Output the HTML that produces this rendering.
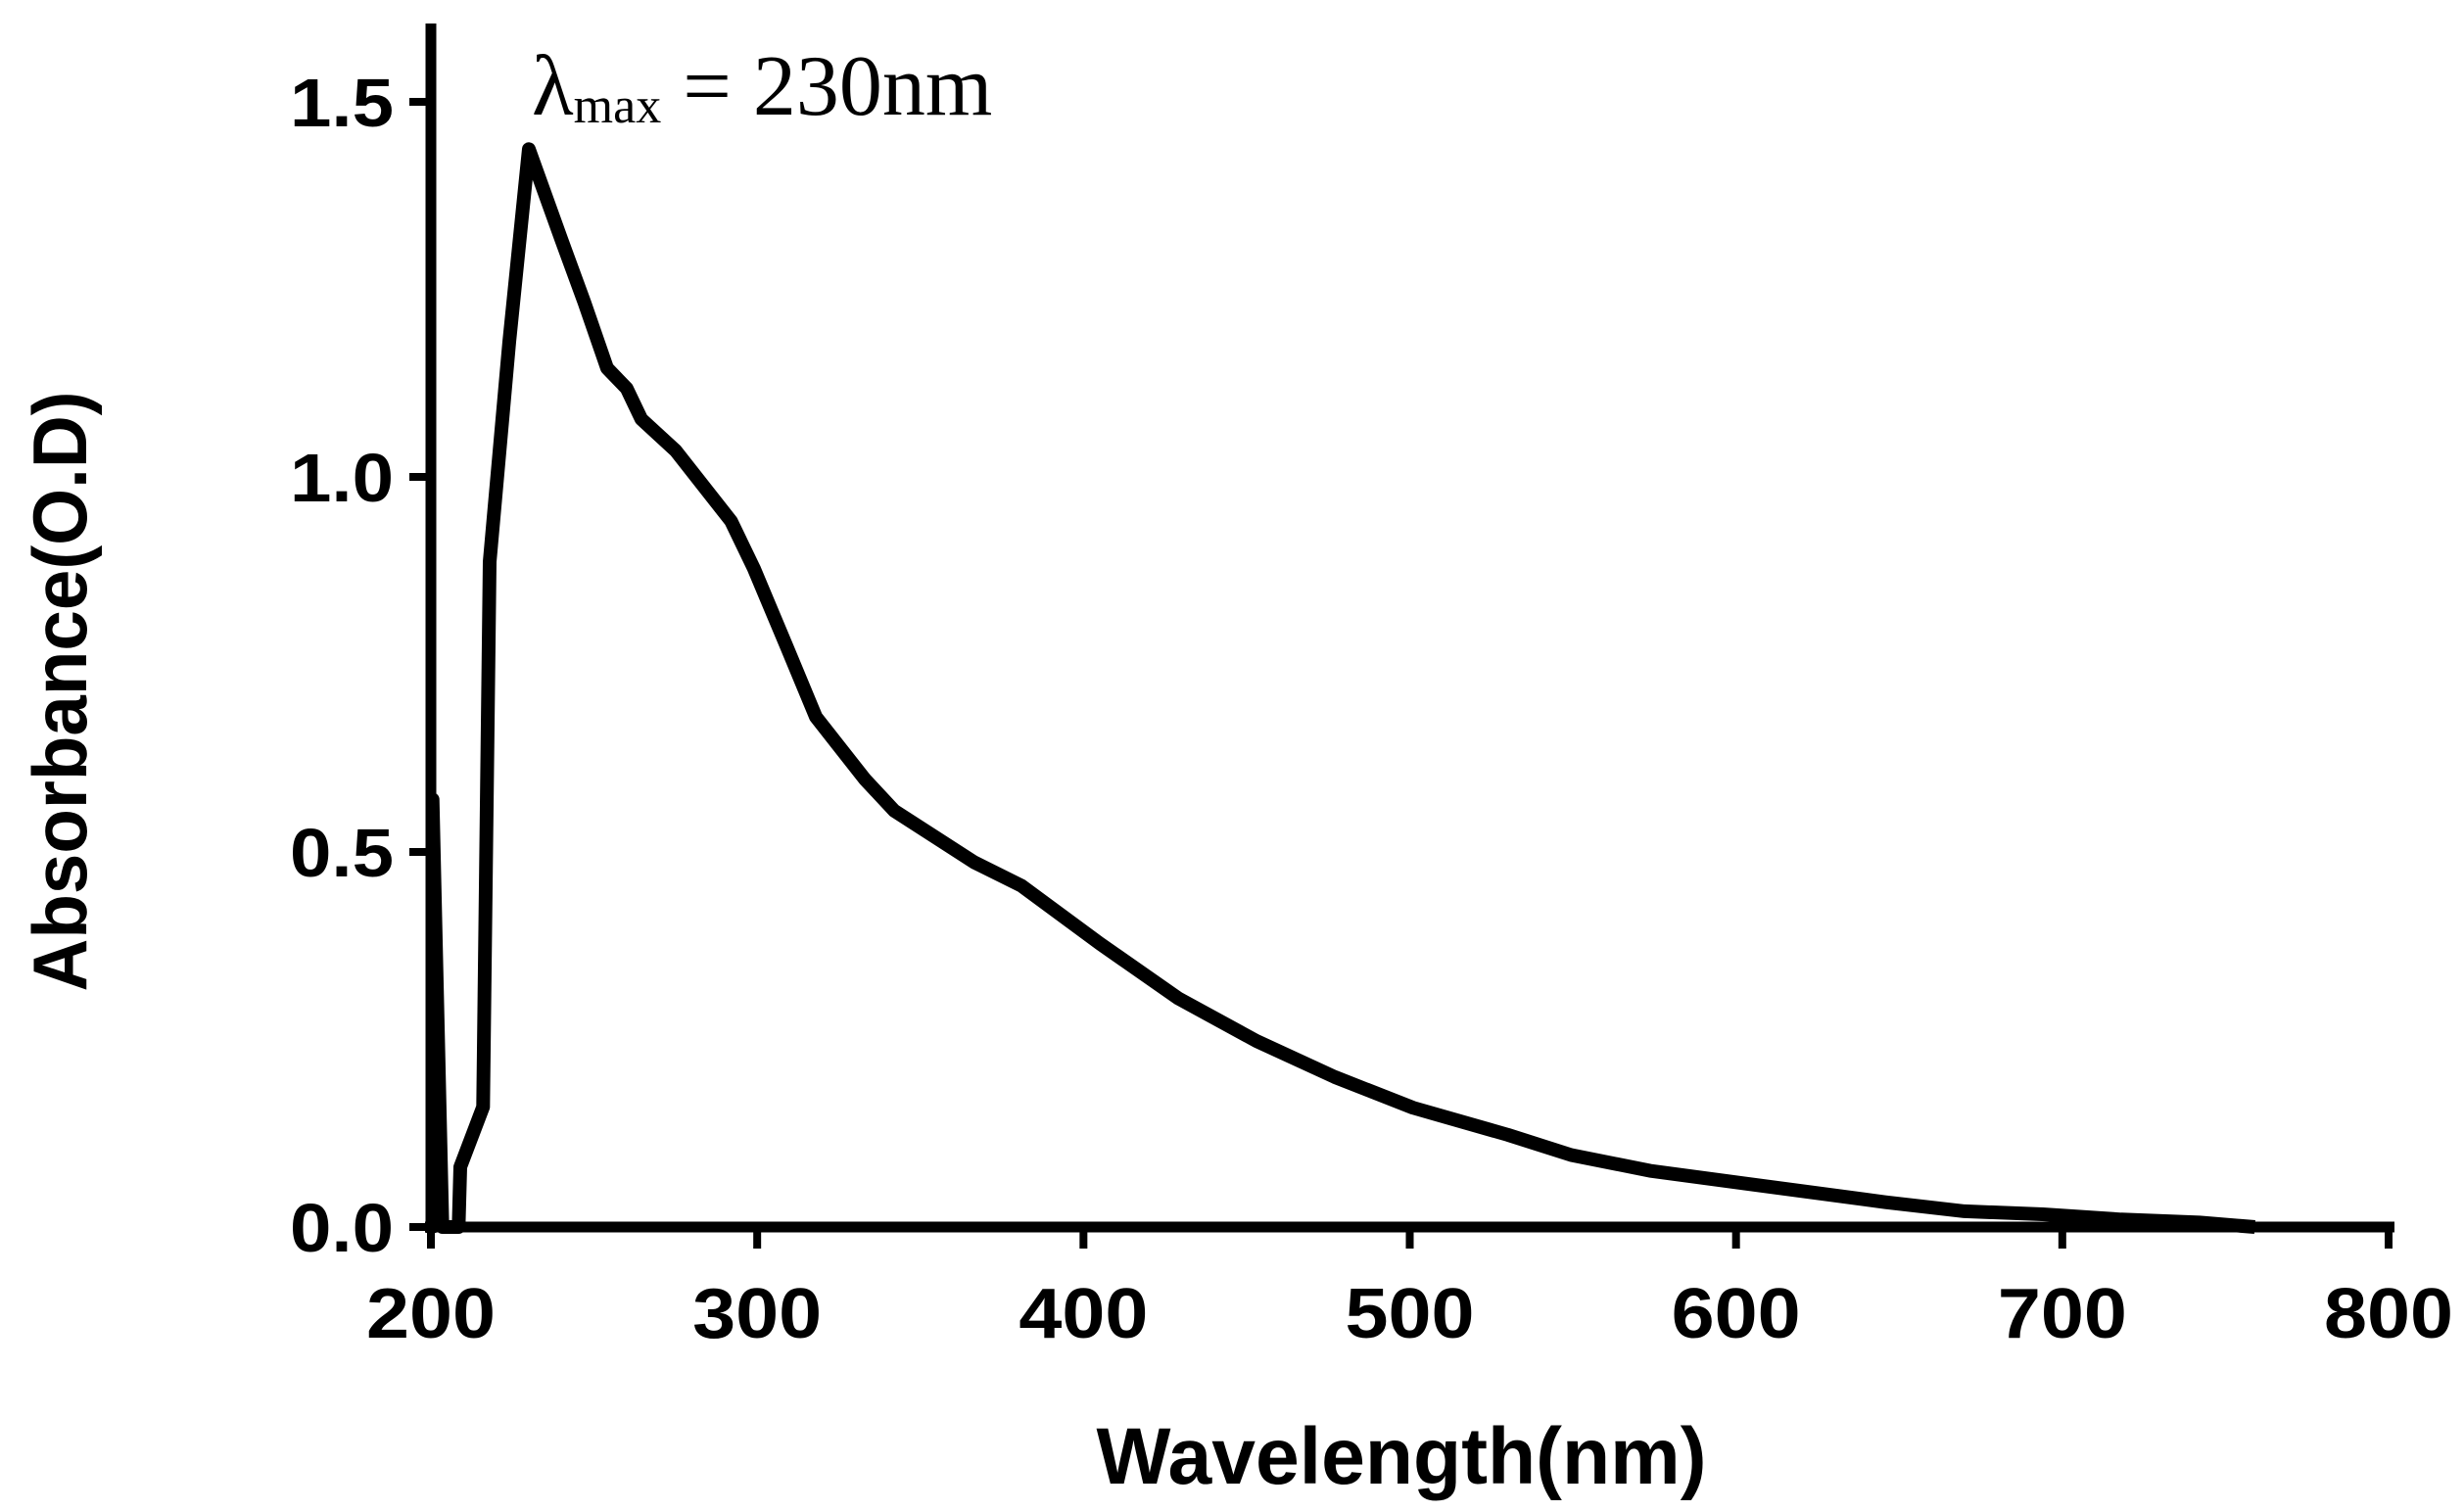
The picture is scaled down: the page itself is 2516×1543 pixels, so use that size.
<!DOCTYPE html>
<html><head><meta charset="utf-8"><style>html,body{margin:0;padding:0;background:#fff}svg{display:block}</style></head>
<body>
<svg width="2516" height="1543" viewBox="0 0 2516 1543" xmlns="http://www.w3.org/2000/svg">
<g id="axes"></g>
<path id="curve" fill="none" stroke="#000" stroke-width="14" stroke-linejoin="round"/>
<text x="543" y="117" font-family="Liberation Serif, serif" font-size="88">λ<tspan font-size="52" dy="8">max</tspan><tspan dy="-8"> = 230nm</tspan></text>
<text x="1431" y="1515" text-anchor="middle" font-family="Liberation Sans, sans-serif" font-weight="bold" font-size="82" textLength="623" lengthAdjust="spacingAndGlyphs">Wavelength(nm)</text>
<text transform="translate(88,706) rotate(-90)" text-anchor="middle" font-family="Liberation Sans, sans-serif" font-weight="bold" font-size="78" textLength="613" lengthAdjust="spacingAndGlyphs">Absorbance(O.D)</text>
</svg>
<script>
const wavelengths=[200,200.5,203.5,208.5,209,216,218,224,230,240,247,254,260,264.5,275,292,299,309,318,333,342,366.6,381,405,429,453,477,501,530,549.5,573.6,597.7,645.8,670,694,718,742,759];
const absorbance=[0.57,0.57,0,0,0.08,0.16,0.887,1.18,1.437,1.316,1.233,1.145,1.118,1.077,1.035,0.941,0.878,0.774,0.68,0.597,0.555,0.486,0.455,0.378,0.305,0.248,0.2,0.159,0.123,0.096,0.075,0.061,0.033,0.021,0.017,0.01,0.006,0];
const xTicks=[200,300,400,500,600,700,800];
const yTicks=[0,0.5,1.0,1.5];
const yTickLabels=["0.0","0.5","1.0","1.5"];
const X0=440,X1=2439,Y0=1253,YPER=766;
function xs(v){return X0+(v-200)/600*(X1-X0);}
function ys(v){return Y0-v*YPER;}
const NS="http://www.w3.org/2000/svg";
const g=document.getElementById('axes');
function mk(t,a){const e=document.createElementNS(NS,t);for(const k in a)e.setAttribute(k,a[k]);g.appendChild(e);return e;}
let e=mk('line',{x1:X0,y1:24,x2:X0,y2:Y0+6,stroke:'#000','stroke-width':11});


e=mk('line',{x1:X0-6,y1:Y0,x2:X1+6,y2:Y0,stroke:'#000','stroke-width':11});


xTicks.forEach(v=>{
 const t=mk('line',{x1:xs(v),y1:Y0,x2:xs(v),y2:Y0+22,stroke:'#000','stroke-width':8});
 
 
 const l=mk('text',{x:xs(v),y:1366,'text-anchor':'middle','font-family':'Liberation Sans, sans-serif','font-weight':'bold','font-size':72,textLength:132,lengthAdjust:'spacingAndGlyphs'});
 l.textContent=String(v);
 
 
});
yTicks.forEach((v,i)=>{
 const t=mk('line',{x1:X0-22,y1:ys(v),x2:X0,y2:ys(v),stroke:'#000','stroke-width':8});
 
 
 const l=mk('text',{x:402,y:ys(v)+25,'text-anchor':'end','font-family':'Liberation Sans, sans-serif','font-weight':'bold','font-size':70,textLength:106,lengthAdjust:'spacingAndGlyphs'});
 l.textContent=yTickLabels[i];
 
 
});
document.getElementById('curve').setAttribute('d',wavelengths.map((w,i)=>(i?'L':'M')+xs(w).toFixed(1)+','+ys(absorbance[i]).toFixed(1)).join(' '));
</script>
</body></html>
